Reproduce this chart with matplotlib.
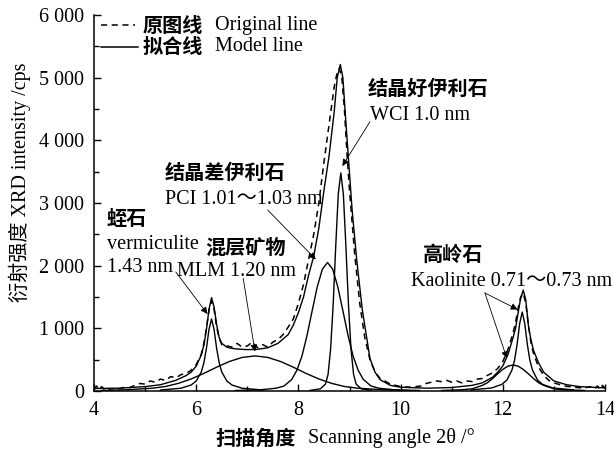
import matplotlib
matplotlib.use("Agg")
import matplotlib.pyplot as plt
from matplotlib.lines import Line2D

plt.rcParams['font.family'] = ['Liberation Serif', 'Noto Sans CJK SC']
plt.rcParams['font.size'] = 14.5

# original (measured) pattern, dashed
orig_x = [4.0, 4.05, 4.1, 4.15, 4.2, 4.25, 4.3, 4.4, 4.5, 4.6, 4.7, 4.8, 4.9, 5.0, 5.1, 5.2, 5.3, 5.4,
          5.5, 5.6, 5.7, 5.8, 5.9, 6.0, 6.1, 6.15, 6.2, 6.25, 6.3, 6.35, 6.4, 6.45, 6.5, 6.6, 6.7, 6.8,
          6.9, 7.0, 7.1, 7.2, 7.3, 7.4, 7.5, 7.6, 7.7, 7.8, 7.9, 8.0, 8.1, 8.2, 8.3, 8.4, 8.5, 8.6, 8.7,
          8.75, 8.8, 8.85, 8.9, 8.95, 9.0, 9.1, 9.2, 9.3, 9.4, 9.5, 9.6, 9.8, 10.0, 10.2, 10.4, 10.5,
          10.6, 10.7, 10.8, 10.9, 11.0, 11.1, 11.2, 11.3, 11.4, 11.5, 11.6, 11.7, 11.8, 11.9, 12.0, 12.1,
          12.2, 12.25, 12.3, 12.35, 12.4, 12.45, 12.5, 12.55, 12.6, 12.7, 12.8, 12.9, 13.0, 13.2, 13.4,
          13.6, 13.7, 13.8, 13.85, 13.9, 13.95, 14.0]
orig_y = [30, 80, 20, 70, 25, 60, 30, 40, 35, 60, 55, 90, 120, 110, 160, 140, 190, 170,
          230, 210, 260, 280, 330, 420, 590, 760, 1000, 1290, 1440, 1300, 1020, 840, 740, 720, 700, 760,
          700, 720, 780, 690, 740, 700, 780, 820, 900, 1020, 1150, 1400, 1700, 2100, 2500, 3000, 3650, 4250, 4850,
          5050, 5150, 5000, 4500, 3800, 3200, 2200, 1400, 850, 500, 300, 200, 110, 70, 60, 80, 120,
          140, 160, 150, 170, 140, 160, 130, 160, 150, 190, 200, 250, 290, 360, 470, 660,
          920, 1100, 1320, 1500, 1560, 1400, 1050, 780, 600, 380, 250, 170, 130, 80, 60,
          45, 70, 30, 80, 25, 90, 40]

# fitted (model) total
model_x = [4.0, 4.5, 5.0, 5.3, 5.6, 5.8, 5.9, 6.0, 6.1, 6.15, 6.2, 6.25, 6.3, 6.35, 6.4, 6.45, 6.5, 6.6,
           6.7, 6.8, 7.0, 7.2, 7.4, 7.6, 7.8, 7.9, 8.0, 8.1, 8.2, 8.3, 8.4, 8.5, 8.6, 8.7, 8.76, 8.82,
           8.87, 8.92, 8.98, 9.05, 9.14, 9.25, 9.4, 9.5, 9.6, 9.8, 10.0, 10.5, 11.0, 11.4, 11.6, 11.8,
           11.9, 12.0, 12.1, 12.2, 12.25, 12.3, 12.35, 12.4, 12.45, 12.5, 12.55, 12.6, 12.7, 12.8, 13.0,
           13.25, 13.5, 14.0]
model_y = [40, 45, 70, 100, 170, 245, 300, 395, 575, 730, 980, 1300, 1490, 1340, 1060, 850, 760, 700,
           680, 670, 660, 665, 690, 760, 900, 1050, 1250, 1500, 1850, 2150, 2600, 3200, 3750, 4450, 5000, 5210,
           5000, 4400, 3700, 2900, 2100, 1300, 520, 300, 180, 90, 60, 45, 55, 90, 130, 220,
           300, 400, 580, 850, 1000, 1250, 1480, 1610, 1450, 1050, 820, 650, 450, 300, 160,
           100, 70, 50]

# fitted components
verm_x = [5.3, 5.7, 5.9, 6.0, 6.1, 6.15, 6.2, 6.25, 6.3, 6.35, 6.4, 6.45, 6.5, 6.6, 6.7, 6.9, 7.3]
verm_y = [16, 44, 95, 159, 304, 449, 679, 980, 1150, 980, 679, 449, 304, 159, 95, 44, 16]

mlm_x = [4.15, 4.65, 5.15, 5.4, 5.65, 5.9, 6.15, 6.4, 6.65, 6.9, 7.15, 7.4, 7.65, 7.9, 8.15, 8.4,
         8.65, 8.9, 9.15, 9.65, 10.15]
mlm_y = [8, 20, 45, 72, 122, 192, 281, 380, 471, 536, 560, 536, 471, 380, 281, 192, 122, 72, 45, 20, 8]

pci_x = [6.77, 7.27, 7.57, 7.72, 7.87, 7.97, 8.07, 8.17, 8.27, 8.37, 8.47, 8.57, 8.67, 8.77, 8.87,
         8.97, 9.07, 9.17, 9.27, 9.42, 9.57, 9.87, 10.37]
pci_y = [8, 20, 45, 80, 185, 330, 558, 891, 1283, 1665, 1946, 2050, 1946, 1665, 1283, 891, 558, 330,
         185, 80, 45, 20, 8]

wci_x = [8.23, 8.43, 8.53, 8.58, 8.63, 8.68, 8.73, 8.78, 8.83, 8.88, 8.93, 8.98, 9.03, 9.08, 9.13, 9.23, 9.43]
wci_y = [10, 35, 110, 263, 666, 1373, 2302, 3140, 3480, 3140, 2302, 1373, 666, 263, 110, 35, 10]

kao1_x = [11.38, 11.78, 11.98, 12.08, 12.18, 12.23, 12.28, 12.33, 12.38, 12.43, 12.48, 12.53, 12.58,
          12.68, 12.78, 12.98, 13.38]
kao1_y = [18, 48, 105, 175, 335, 490, 745, 1075, 1260, 1075, 745, 490, 335, 175, 105, 48, 18]

kao2_x = [10.8, 11.2, 11.4, 11.6, 11.7, 11.8, 11.9, 12.0, 12.1, 12.2, 12.3, 12.4, 12.5, 12.6, 12.7,
          12.8, 13.0, 13.2, 13.6]
kao2_y = [8, 20, 35, 90, 132, 199, 275, 345, 396, 415, 396, 345, 275, 199, 132, 90, 35, 20, 8]

yticks = [0, 1000, 2000, 3000, 4000, 5000, 6000]
ytick_labels = ['0', '1 000', '2 000', '3 000', '4 000', '5 000', '6 000']
xticks = [4, 6, 8, 10, 12, 14]

fig = plt.figure(figsize=(6.14, 4.51), dpi=100)
ax = fig.add_axes([94 / 614, 60 / 451, 511 / 614, 376 / 451])

lw = 1.0
for cx, cy in [(verm_x, verm_y), (mlm_x, mlm_y), (pci_x, pci_y), (wci_x, wci_y),
               (kao1_x, kao1_y), (kao2_x, kao2_y)]:
    ax.plot(cx, cy, color='black', lw=lw)
ax.plot(model_x, model_y, color='black', lw=lw)
ax.plot(orig_x, orig_y, color='black', lw=1.1, ls=(0, (4, 3)))

ax.set_xlim(4, 14)
ax.set_ylim(0, 6000)
ax.set_xticks(xticks)
ax.set_xticks(range(4, 15), minor=True)
ax.set_yticks(yticks)
ax.set_yticklabels(ytick_labels)
ax.set_yticks(range(0, 6001, 500), minor=True)
ax.tick_params(which='major', direction='in', length=5, width=1.0, pad=7, labelsize=14.5)
ax.tick_params(which='minor', direction='in', length=3.5, width=1.0)
ax.spines['top'].set_visible(False)
ax.spines['right'].set_visible(False)
ax.spines['left'].set_linewidth(1.1)
ax.spines['bottom'].set_linewidth(1.1)

bold_cn = dict(fontfamily='Noto Sans CJK SC', fontweight='bold', fontsize=14.5)

# annotations
ax.text(9.36, 4835, '结晶好伊利石', ha='left', va='center', **bold_cn)
ax.text(9.40, 4390, 'WCI 1.0 nm', ha='left', va='center')
ax.text(5.39, 3495, '结晶差伊利石', ha='left', va='center', **bold_cn)
ax.text(5.39, 3048, 'PCI 1.01～1.03 nm', ha='left', va='center')
ax.text(4.25, 2760, '蛭石', ha='left', va='center', **bold_cn)
ax.text(4.25, 2330, 'vermiculite', ha='left', va='center')
ax.text(4.25, 1963, '1.43 nm', ha='left', va='center')
ax.text(6.17, 2298, '混层矿物', ha='left', va='center', **bold_cn)
ax.text(5.62, 1900, 'MLM 1.20 nm', ha='left', va='center')
ax.text(10.44, 2186, '高岭石', ha='left', va='center', **bold_cn)
ax.text(10.2, 1740, 'Kaolinite 0.71～0.73 nm', ha='left', va='center')

arrows = [((5.60, 1900), (6.22, 1230)),
          ((6.92, 1798), (7.15, 630)),
          ((7.40, 2888), (8.34, 2100)),
          ((9.40, 4297), (8.86, 3590)),
          ((11.65, 1564), (12.29, 1300)),
          ((11.65, 1564), (12.08, 522))]
for start, end in arrows:
    ax.annotate('', xy=end, xytext=start,
                arrowprops=dict(arrowstyle='-|>', color='black', lw=0.6,
                                mutation_scale=10, shrinkA=0, shrinkB=0))

# legend drawn by hand
ax.add_line(Line2D([0.014, 0.080], [0.973, 0.973], transform=ax.transAxes,
                   color='black', lw=1.1, ls=(0, (4, 3))))
ax.add_line(Line2D([0.014, 0.086], [0.915, 0.915], transform=ax.transAxes,
                   color='black', lw=1.1))
ax.text(0.096, 0.973, '原图线', transform=ax.transAxes, ha='left', va='center', **bold_cn)
ax.text(0.237, 0.973, 'Original line', transform=ax.transAxes, ha='left', va='center')
ax.text(0.096, 0.915, '拟合线', transform=ax.transAxes, ha='left', va='center', **bold_cn)
ax.text(0.237, 0.915, 'Model line', transform=ax.transAxes, ha='left', va='center')

# axis titles
fig.text(215 / 614, 13 / 451, '扫描角度', ha='left', va='center', **bold_cn)
fig.text(308 / 614, 13 / 451, 'Scanning angle 2θ /°', ha='left', va='center')
fig.text(20 / 614, 269 / 451, '衍射强度 XRD intensity /cps', rotation=90,
         ha='center', va='center', fontsize=14.5)

fig.savefig('out.png', dpi=100)
